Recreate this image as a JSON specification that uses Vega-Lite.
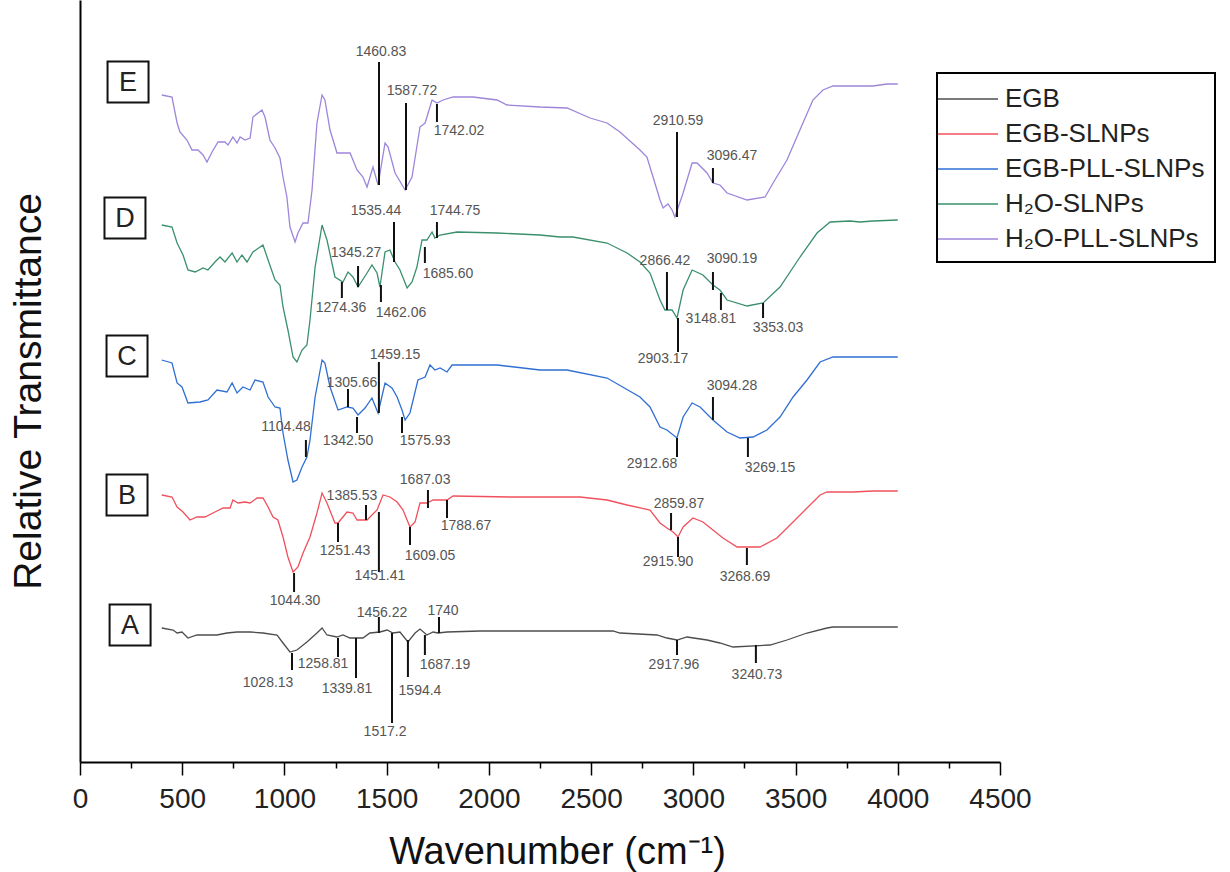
{
 "$schema": "https://vega.github.io/schema/vega-lite/v6.json",
 "width": 920,
 "height": 762,
 "autosize": {"type": "none"},
 "padding": {"left": 80, "top": 0, "right": 230, "bottom": 110},
 "background": "white",
 "config": {"view": {"stroke": null}, "font": "Liberation Sans", "legend": {"strokeWidth": 2}},
 "datasets": {
  "spectra": [
   {"sample":"H₂O-PLL-SLNPs","wavenumber":400,"T":667},{"sample":"H₂O-PLL-SLNPs","wavenumber":450,"T":665},{"sample":"H₂O-PLL-SLNPs","wavenumber":475,"T":639},{"sample":"H₂O-PLL-SLNPs","wavenumber":489,"T":630},{"sample":"H₂O-PLL-SLNPs","wavenumber":523,"T":622},{"sample":"H₂O-PLL-SLNPs","wavenumber":548,"T":612},{"sample":"H₂O-PLL-SLNPs","wavenumber":577,"T":612},{"sample":"H₂O-PLL-SLNPs","wavenumber":602,"T":607},{"sample":"H₂O-PLL-SLNPs","wavenumber":621,"T":600},{"sample":"H₂O-PLL-SLNPs","wavenumber":646,"T":610},{"sample":"H₂O-PLL-SLNPs","wavenumber":675,"T":620},{"sample":"H₂O-PLL-SLNPs","wavenumber":709,"T":620},{"sample":"H₂O-PLL-SLNPs","wavenumber":724,"T":617},{"sample":"H₂O-PLL-SLNPs","wavenumber":748,"T":625},{"sample":"H₂O-PLL-SLNPs","wavenumber":768,"T":619},{"sample":"H₂O-PLL-SLNPs","wavenumber":783,"T":625},{"sample":"H₂O-PLL-SLNPs","wavenumber":807,"T":622},{"sample":"H₂O-PLL-SLNPs","wavenumber":832,"T":624},{"sample":"H₂O-PLL-SLNPs","wavenumber":846,"T":645},{"sample":"H₂O-PLL-SLNPs","wavenumber":890,"T":652},{"sample":"H₂O-PLL-SLNPs","wavenumber":905,"T":645},{"sample":"H₂O-PLL-SLNPs","wavenumber":929,"T":622},{"sample":"H₂O-PLL-SLNPs","wavenumber":954,"T":614},{"sample":"H₂O-PLL-SLNPs","wavenumber":978,"T":604},{"sample":"H₂O-PLL-SLNPs","wavenumber":993,"T":585},{"sample":"H₂O-PLL-SLNPs","wavenumber":1012,"T":565},{"sample":"H₂O-PLL-SLNPs","wavenumber":1027,"T":535},{"sample":"H₂O-PLL-SLNPs","wavenumber":1052,"T":520},{"sample":"H₂O-PLL-SLNPs","wavenumber":1066,"T":529},{"sample":"H₂O-PLL-SLNPs","wavenumber":1091,"T":539},{"sample":"H₂O-PLL-SLNPs","wavenumber":1115,"T":539},{"sample":"H₂O-PLL-SLNPs","wavenumber":1135,"T":572},{"sample":"H₂O-PLL-SLNPs","wavenumber":1159,"T":639},{"sample":"H₂O-PLL-SLNPs","wavenumber":1184,"T":667},{"sample":"H₂O-PLL-SLNPs","wavenumber":1198,"T":662},{"sample":"H₂O-PLL-SLNPs","wavenumber":1223,"T":632},{"sample":"H₂O-PLL-SLNPs","wavenumber":1257,"T":609},{"sample":"H₂O-PLL-SLNPs","wavenumber":1282,"T":609},{"sample":"H₂O-PLL-SLNPs","wavenumber":1321,"T":609},{"sample":"H₂O-PLL-SLNPs","wavenumber":1355,"T":592},{"sample":"H₂O-PLL-SLNPs","wavenumber":1384,"T":585},{"sample":"H₂O-PLL-SLNPs","wavenumber":1404,"T":575},{"sample":"H₂O-PLL-SLNPs","wavenumber":1433,"T":595},{"sample":"H₂O-PLL-SLNPs","wavenumber":1458,"T":577},{"sample":"H₂O-PLL-SLNPs","wavenumber":1492,"T":619},{"sample":"H₂O-PLL-SLNPs","wavenumber":1507,"T":615},{"sample":"H₂O-PLL-SLNPs","wavenumber":1541,"T":589},{"sample":"H₂O-PLL-SLNPs","wavenumber":1590,"T":572},{"sample":"H₂O-PLL-SLNPs","wavenumber":1624,"T":585},{"sample":"H₂O-PLL-SLNPs","wavenumber":1663,"T":635},{"sample":"H₂O-PLL-SLNPs","wavenumber":1688,"T":639},{"sample":"H₂O-PLL-SLNPs","wavenumber":1722,"T":662},{"sample":"H₂O-PLL-SLNPs","wavenumber":1746,"T":659},{"sample":"H₂O-PLL-SLNPs","wavenumber":1776,"T":662},{"sample":"H₂O-PLL-SLNPs","wavenumber":1825,"T":665},{"sample":"H₂O-PLL-SLNPs","wavenumber":1922,"T":665},{"sample":"H₂O-PLL-SLNPs","wavenumber":2040,"T":662},{"sample":"H₂O-PLL-SLNPs","wavenumber":2089,"T":657},{"sample":"H₂O-PLL-SLNPs","wavenumber":2250,"T":655},{"sample":"H₂O-PLL-SLNPs","wavenumber":2382,"T":654},{"sample":"H₂O-PLL-SLNPs","wavenumber":2495,"T":644},{"sample":"H₂O-PLL-SLNPs","wavenumber":2578,"T":639},{"sample":"H₂O-PLL-SLNPs","wavenumber":2641,"T":630},{"sample":"H₂O-PLL-SLNPs","wavenumber":2739,"T":612},{"sample":"H₂O-PLL-SLNPs","wavenumber":2773,"T":605},{"sample":"H₂O-PLL-SLNPs","wavenumber":2803,"T":585},{"sample":"H₂O-PLL-SLNPs","wavenumber":2837,"T":562},{"sample":"H₂O-PLL-SLNPs","wavenumber":2852,"T":554},{"sample":"H₂O-PLL-SLNPs","wavenumber":2876,"T":558},{"sample":"H₂O-PLL-SLNPs","wavenumber":2896,"T":552},{"sample":"H₂O-PLL-SLNPs","wavenumber":2910,"T":545},{"sample":"H₂O-PLL-SLNPs","wavenumber":2950,"T":569},{"sample":"H₂O-PLL-SLNPs","wavenumber":2994,"T":599},{"sample":"H₂O-PLL-SLNPs","wavenumber":3018,"T":599},{"sample":"H₂O-PLL-SLNPs","wavenumber":3067,"T":589},{"sample":"H₂O-PLL-SLNPs","wavenumber":3096,"T":579},{"sample":"H₂O-PLL-SLNPs","wavenumber":3130,"T":577},{"sample":"H₂O-PLL-SLNPs","wavenumber":3165,"T":569},{"sample":"H₂O-PLL-SLNPs","wavenumber":3263,"T":562},{"sample":"H₂O-PLL-SLNPs","wavenumber":3351,"T":565},{"sample":"H₂O-PLL-SLNPs","wavenumber":3390,"T":579},{"sample":"H₂O-PLL-SLNPs","wavenumber":3458,"T":602},{"sample":"H₂O-PLL-SLNPs","wavenumber":3536,"T":639},{"sample":"H₂O-PLL-SLNPs","wavenumber":3585,"T":662},{"sample":"H₂O-PLL-SLNPs","wavenumber":3634,"T":672},{"sample":"H₂O-PLL-SLNPs","wavenumber":3683,"T":676},{"sample":"H₂O-PLL-SLNPs","wavenumber":3879,"T":676},{"sample":"H₂O-PLL-SLNPs","wavenumber":3947,"T":678},{"sample":"H₂O-PLL-SLNPs","wavenumber":4000,"T":678},
   {"sample":"H₂O-SLNPs","wavenumber":400,"T":537},{"sample":"H₂O-SLNPs","wavenumber":450,"T":535},{"sample":"H₂O-SLNPs","wavenumber":475,"T":519},{"sample":"H₂O-SLNPs","wavenumber":504,"T":507},{"sample":"H₂O-SLNPs","wavenumber":528,"T":492},{"sample":"H₂O-SLNPs","wavenumber":563,"T":490},{"sample":"H₂O-SLNPs","wavenumber":602,"T":494},{"sample":"H₂O-SLNPs","wavenumber":626,"T":492},{"sample":"H₂O-SLNPs","wavenumber":660,"T":500},{"sample":"H₂O-SLNPs","wavenumber":685,"T":505},{"sample":"H₂O-SLNPs","wavenumber":709,"T":500},{"sample":"H₂O-SLNPs","wavenumber":744,"T":509},{"sample":"H₂O-SLNPs","wavenumber":768,"T":500},{"sample":"H₂O-SLNPs","wavenumber":792,"T":507},{"sample":"H₂O-SLNPs","wavenumber":817,"T":500},{"sample":"H₂O-SLNPs","wavenumber":846,"T":510},{"sample":"H₂O-SLNPs","wavenumber":895,"T":517},{"sample":"H₂O-SLNPs","wavenumber":920,"T":502},{"sample":"H₂O-SLNPs","wavenumber":954,"T":482},{"sample":"H₂O-SLNPs","wavenumber":978,"T":477},{"sample":"H₂O-SLNPs","wavenumber":993,"T":455},{"sample":"H₂O-SLNPs","wavenumber":1017,"T":432},{"sample":"H₂O-SLNPs","wavenumber":1042,"T":405},{"sample":"H₂O-SLNPs","wavenumber":1061,"T":400},{"sample":"H₂O-SLNPs","wavenumber":1086,"T":412},{"sample":"H₂O-SLNPs","wavenumber":1110,"T":417},{"sample":"H₂O-SLNPs","wavenumber":1125,"T":442},{"sample":"H₂O-SLNPs","wavenumber":1150,"T":495},{"sample":"H₂O-SLNPs","wavenumber":1184,"T":537},{"sample":"H₂O-SLNPs","wavenumber":1208,"T":522},{"sample":"H₂O-SLNPs","wavenumber":1247,"T":485},{"sample":"H₂O-SLNPs","wavenumber":1286,"T":480},{"sample":"H₂O-SLNPs","wavenumber":1311,"T":490},{"sample":"H₂O-SLNPs","wavenumber":1335,"T":485},{"sample":"H₂O-SLNPs","wavenumber":1360,"T":475},{"sample":"H₂O-SLNPs","wavenumber":1404,"T":489},{"sample":"H₂O-SLNPs","wavenumber":1428,"T":497},{"sample":"H₂O-SLNPs","wavenumber":1453,"T":489},{"sample":"H₂O-SLNPs","wavenumber":1467,"T":475},{"sample":"H₂O-SLNPs","wavenumber":1492,"T":510},{"sample":"H₂O-SLNPs","wavenumber":1516,"T":512},{"sample":"H₂O-SLNPs","wavenumber":1541,"T":500},{"sample":"H₂O-SLNPs","wavenumber":1565,"T":492},{"sample":"H₂O-SLNPs","wavenumber":1600,"T":474},{"sample":"H₂O-SLNPs","wavenumber":1624,"T":480},{"sample":"H₂O-SLNPs","wavenumber":1648,"T":495},{"sample":"H₂O-SLNPs","wavenumber":1673,"T":522},{"sample":"H₂O-SLNPs","wavenumber":1697,"T":522},{"sample":"H₂O-SLNPs","wavenumber":1722,"T":530},{"sample":"H₂O-SLNPs","wavenumber":1736,"T":524},{"sample":"H₂O-SLNPs","wavenumber":1761,"T":527},{"sample":"H₂O-SLNPs","wavenumber":1844,"T":530},{"sample":"H₂O-SLNPs","wavenumber":2040,"T":529},{"sample":"H₂O-SLNPs","wavenumber":2250,"T":527},{"sample":"H₂O-SLNPs","wavenumber":2348,"T":525},{"sample":"H₂O-SLNPs","wavenumber":2411,"T":525},{"sample":"H₂O-SLNPs","wavenumber":2578,"T":519},{"sample":"H₂O-SLNPs","wavenumber":2676,"T":509},{"sample":"H₂O-SLNPs","wavenumber":2739,"T":500},{"sample":"H₂O-SLNPs","wavenumber":2788,"T":489},{"sample":"H₂O-SLNPs","wavenumber":2837,"T":462},{"sample":"H₂O-SLNPs","wavenumber":2861,"T":452},{"sample":"H₂O-SLNPs","wavenumber":2896,"T":452},{"sample":"H₂O-SLNPs","wavenumber":2920,"T":444},{"sample":"H₂O-SLNPs","wavenumber":2950,"T":472},{"sample":"H₂O-SLNPs","wavenumber":2994,"T":492},{"sample":"H₂O-SLNPs","wavenumber":3047,"T":487},{"sample":"H₂O-SLNPs","wavenumber":3096,"T":477},{"sample":"H₂O-SLNPs","wavenumber":3130,"T":472},{"sample":"H₂O-SLNPs","wavenumber":3165,"T":462},{"sample":"H₂O-SLNPs","wavenumber":3263,"T":456},{"sample":"H₂O-SLNPs","wavenumber":3341,"T":459},{"sample":"H₂O-SLNPs","wavenumber":3424,"T":475},{"sample":"H₂O-SLNPs","wavenumber":3522,"T":505},{"sample":"H₂O-SLNPs","wavenumber":3605,"T":529},{"sample":"H₂O-SLNPs","wavenumber":3669,"T":540},{"sample":"H₂O-SLNPs","wavenumber":3766,"T":541},{"sample":"H₂O-SLNPs","wavenumber":3815,"T":540},{"sample":"H₂O-SLNPs","wavenumber":3879,"T":541},{"sample":"H₂O-SLNPs","wavenumber":4000,"T":542},
   {"sample":"EGB-PLL-SLNPs","wavenumber":400,"T":402},{"sample":"EGB-PLL-SLNPs","wavenumber":450,"T":399},{"sample":"EGB-PLL-SLNPs","wavenumber":475,"T":379},{"sample":"EGB-PLL-SLNPs","wavenumber":499,"T":375},{"sample":"EGB-PLL-SLNPs","wavenumber":528,"T":359},{"sample":"EGB-PLL-SLNPs","wavenumber":587,"T":360},{"sample":"EGB-PLL-SLNPs","wavenumber":626,"T":362},{"sample":"EGB-PLL-SLNPs","wavenumber":670,"T":372},{"sample":"EGB-PLL-SLNPs","wavenumber":719,"T":370},{"sample":"EGB-PLL-SLNPs","wavenumber":744,"T":379},{"sample":"EGB-PLL-SLNPs","wavenumber":768,"T":369},{"sample":"EGB-PLL-SLNPs","wavenumber":797,"T":375},{"sample":"EGB-PLL-SLNPs","wavenumber":832,"T":372},{"sample":"EGB-PLL-SLNPs","wavenumber":856,"T":382},{"sample":"EGB-PLL-SLNPs","wavenumber":895,"T":380},{"sample":"EGB-PLL-SLNPs","wavenumber":920,"T":365},{"sample":"EGB-PLL-SLNPs","wavenumber":954,"T":355},{"sample":"EGB-PLL-SLNPs","wavenumber":978,"T":354},{"sample":"EGB-PLL-SLNPs","wavenumber":993,"T":329},{"sample":"EGB-PLL-SLNPs","wavenumber":1017,"T":302},{"sample":"EGB-PLL-SLNPs","wavenumber":1042,"T":280},{"sample":"EGB-PLL-SLNPs","wavenumber":1061,"T":282},{"sample":"EGB-PLL-SLNPs","wavenumber":1086,"T":295},{"sample":"EGB-PLL-SLNPs","wavenumber":1110,"T":305},{"sample":"EGB-PLL-SLNPs","wavenumber":1125,"T":322},{"sample":"EGB-PLL-SLNPs","wavenumber":1150,"T":365},{"sample":"EGB-PLL-SLNPs","wavenumber":1184,"T":402},{"sample":"EGB-PLL-SLNPs","wavenumber":1198,"T":399},{"sample":"EGB-PLL-SLNPs","wavenumber":1223,"T":375},{"sample":"EGB-PLL-SLNPs","wavenumber":1262,"T":352},{"sample":"EGB-PLL-SLNPs","wavenumber":1306,"T":355},{"sample":"EGB-PLL-SLNPs","wavenumber":1335,"T":354},{"sample":"EGB-PLL-SLNPs","wavenumber":1360,"T":347},{"sample":"EGB-PLL-SLNPs","wavenumber":1394,"T":354},{"sample":"EGB-PLL-SLNPs","wavenumber":1428,"T":364},{"sample":"EGB-PLL-SLNPs","wavenumber":1458,"T":349},{"sample":"EGB-PLL-SLNPs","wavenumber":1492,"T":379},{"sample":"EGB-PLL-SLNPs","wavenumber":1526,"T":374},{"sample":"EGB-PLL-SLNPs","wavenumber":1551,"T":365},{"sample":"EGB-PLL-SLNPs","wavenumber":1575,"T":352},{"sample":"EGB-PLL-SLNPs","wavenumber":1590,"T":342},{"sample":"EGB-PLL-SLNPs","wavenumber":1614,"T":349},{"sample":"EGB-PLL-SLNPs","wavenumber":1653,"T":382},{"sample":"EGB-PLL-SLNPs","wavenumber":1688,"T":385},{"sample":"EGB-PLL-SLNPs","wavenumber":1712,"T":397},{"sample":"EGB-PLL-SLNPs","wavenumber":1736,"T":392},{"sample":"EGB-PLL-SLNPs","wavenumber":1761,"T":394},{"sample":"EGB-PLL-SLNPs","wavenumber":1795,"T":390},{"sample":"EGB-PLL-SLNPs","wavenumber":1820,"T":397},{"sample":"EGB-PLL-SLNPs","wavenumber":2040,"T":397},{"sample":"EGB-PLL-SLNPs","wavenumber":2250,"T":392},{"sample":"EGB-PLL-SLNPs","wavenumber":2382,"T":392},{"sample":"EGB-PLL-SLNPs","wavenumber":2578,"T":384},{"sample":"EGB-PLL-SLNPs","wavenumber":2739,"T":365},{"sample":"EGB-PLL-SLNPs","wavenumber":2788,"T":355},{"sample":"EGB-PLL-SLNPs","wavenumber":2837,"T":335},{"sample":"EGB-PLL-SLNPs","wavenumber":2871,"T":332},{"sample":"EGB-PLL-SLNPs","wavenumber":2920,"T":324},{"sample":"EGB-PLL-SLNPs","wavenumber":2950,"T":345},{"sample":"EGB-PLL-SLNPs","wavenumber":2994,"T":359},{"sample":"EGB-PLL-SLNPs","wavenumber":3033,"T":355},{"sample":"EGB-PLL-SLNPs","wavenumber":3096,"T":342},{"sample":"EGB-PLL-SLNPs","wavenumber":3165,"T":330},{"sample":"EGB-PLL-SLNPs","wavenumber":3228,"T":324},{"sample":"EGB-PLL-SLNPs","wavenumber":3292,"T":325},{"sample":"EGB-PLL-SLNPs","wavenumber":3360,"T":332},{"sample":"EGB-PLL-SLNPs","wavenumber":3424,"T":345},{"sample":"EGB-PLL-SLNPs","wavenumber":3488,"T":365},{"sample":"EGB-PLL-SLNPs","wavenumber":3556,"T":382},{"sample":"EGB-PLL-SLNPs","wavenumber":3620,"T":400},{"sample":"EGB-PLL-SLNPs","wavenumber":3683,"T":405},{"sample":"EGB-PLL-SLNPs","wavenumber":4000,"T":405},
   {"sample":"EGB-SLNPs","wavenumber":400,"T":267},{"sample":"EGB-SLNPs","wavenumber":450,"T":265},{"sample":"EGB-SLNPs","wavenumber":475,"T":255},{"sample":"EGB-SLNPs","wavenumber":504,"T":250},{"sample":"EGB-SLNPs","wavenumber":538,"T":242},{"sample":"EGB-SLNPs","wavenumber":572,"T":245},{"sample":"EGB-SLNPs","wavenumber":611,"T":245},{"sample":"EGB-SLNPs","wavenumber":660,"T":250},{"sample":"EGB-SLNPs","wavenumber":700,"T":254},{"sample":"EGB-SLNPs","wavenumber":734,"T":254},{"sample":"EGB-SLNPs","wavenumber":748,"T":262},{"sample":"EGB-SLNPs","wavenumber":773,"T":259},{"sample":"EGB-SLNPs","wavenumber":807,"T":260},{"sample":"EGB-SLNPs","wavenumber":832,"T":259},{"sample":"EGB-SLNPs","wavenumber":866,"T":264},{"sample":"EGB-SLNPs","wavenumber":895,"T":264},{"sample":"EGB-SLNPs","wavenumber":920,"T":255},{"sample":"EGB-SLNPs","wavenumber":944,"T":245},{"sample":"EGB-SLNPs","wavenumber":968,"T":242},{"sample":"EGB-SLNPs","wavenumber":993,"T":225},{"sample":"EGB-SLNPs","wavenumber":1017,"T":205},{"sample":"EGB-SLNPs","wavenumber":1042,"T":190},{"sample":"EGB-SLNPs","wavenumber":1066,"T":195},{"sample":"EGB-SLNPs","wavenumber":1091,"T":209},{"sample":"EGB-SLNPs","wavenumber":1125,"T":225},{"sample":"EGB-SLNPs","wavenumber":1159,"T":249},{"sample":"EGB-SLNPs","wavenumber":1184,"T":269},{"sample":"EGB-SLNPs","wavenumber":1208,"T":259},{"sample":"EGB-SLNPs","wavenumber":1247,"T":239},{"sample":"EGB-SLNPs","wavenumber":1262,"T":239},{"sample":"EGB-SLNPs","wavenumber":1306,"T":250},{"sample":"EGB-SLNPs","wavenumber":1335,"T":249},{"sample":"EGB-SLNPs","wavenumber":1355,"T":242},{"sample":"EGB-SLNPs","wavenumber":1404,"T":242},{"sample":"EGB-SLNPs","wavenumber":1453,"T":252},{"sample":"EGB-SLNPs","wavenumber":1482,"T":267},{"sample":"EGB-SLNPs","wavenumber":1516,"T":265},{"sample":"EGB-SLNPs","wavenumber":1551,"T":260},{"sample":"EGB-SLNPs","wavenumber":1580,"T":252},{"sample":"EGB-SLNPs","wavenumber":1614,"T":235},{"sample":"EGB-SLNPs","wavenumber":1639,"T":240},{"sample":"EGB-SLNPs","wavenumber":1663,"T":259},{"sample":"EGB-SLNPs","wavenumber":1697,"T":259},{"sample":"EGB-SLNPs","wavenumber":1727,"T":262},{"sample":"EGB-SLNPs","wavenumber":1761,"T":262},{"sample":"EGB-SLNPs","wavenumber":1795,"T":262},{"sample":"EGB-SLNPs","wavenumber":1825,"T":266},{"sample":"EGB-SLNPs","wavenumber":2103,"T":265},{"sample":"EGB-SLNPs","wavenumber":2446,"T":265},{"sample":"EGB-SLNPs","wavenumber":2578,"T":262},{"sample":"EGB-SLNPs","wavenumber":2676,"T":257},{"sample":"EGB-SLNPs","wavenumber":2788,"T":252},{"sample":"EGB-SLNPs","wavenumber":2837,"T":239},{"sample":"EGB-SLNPs","wavenumber":2871,"T":234},{"sample":"EGB-SLNPs","wavenumber":2901,"T":230},{"sample":"EGB-SLNPs","wavenumber":2925,"T":225},{"sample":"EGB-SLNPs","wavenumber":2950,"T":235},{"sample":"EGB-SLNPs","wavenumber":2998,"T":244},{"sample":"EGB-SLNPs","wavenumber":3047,"T":240},{"sample":"EGB-SLNPs","wavenumber":3096,"T":232},{"sample":"EGB-SLNPs","wavenumber":3145,"T":224},{"sample":"EGB-SLNPs","wavenumber":3214,"T":215},{"sample":"EGB-SLNPs","wavenumber":3326,"T":215},{"sample":"EGB-SLNPs","wavenumber":3409,"T":224},{"sample":"EGB-SLNPs","wavenumber":3473,"T":237},{"sample":"EGB-SLNPs","wavenumber":3556,"T":254},{"sample":"EGB-SLNPs","wavenumber":3620,"T":267},{"sample":"EGB-SLNPs","wavenumber":3654,"T":270},{"sample":"EGB-SLNPs","wavenumber":3781,"T":270},{"sample":"EGB-SLNPs","wavenumber":3879,"T":271},{"sample":"EGB-SLNPs","wavenumber":4000,"T":271},
   {"sample":"EGB","wavenumber":400,"T":134},{"sample":"EGB","wavenumber":455,"T":132},{"sample":"EGB","wavenumber":475,"T":129},{"sample":"EGB","wavenumber":499,"T":130},{"sample":"EGB","wavenumber":528,"T":124},{"sample":"EGB","wavenumber":572,"T":127},{"sample":"EGB","wavenumber":670,"T":127},{"sample":"EGB","wavenumber":719,"T":129},{"sample":"EGB","wavenumber":768,"T":130},{"sample":"EGB","wavenumber":832,"T":130},{"sample":"EGB","wavenumber":895,"T":129},{"sample":"EGB","wavenumber":964,"T":127},{"sample":"EGB","wavenumber":993,"T":119},{"sample":"EGB","wavenumber":1027,"T":110},{"sample":"EGB","wavenumber":1061,"T":112},{"sample":"EGB","wavenumber":1110,"T":120},{"sample":"EGB","wavenumber":1159,"T":129},{"sample":"EGB","wavenumber":1184,"T":134},{"sample":"EGB","wavenumber":1208,"T":127},{"sample":"EGB","wavenumber":1257,"T":125},{"sample":"EGB","wavenumber":1286,"T":127},{"sample":"EGB","wavenumber":1321,"T":124},{"sample":"EGB","wavenumber":1384,"T":124},{"sample":"EGB","wavenumber":1418,"T":129},{"sample":"EGB","wavenumber":1467,"T":130},{"sample":"EGB","wavenumber":1502,"T":132},{"sample":"EGB","wavenumber":1531,"T":129},{"sample":"EGB","wavenumber":1565,"T":130},{"sample":"EGB","wavenumber":1604,"T":120},{"sample":"EGB","wavenumber":1639,"T":129},{"sample":"EGB","wavenumber":1663,"T":133},{"sample":"EGB","wavenumber":1697,"T":127},{"sample":"EGB","wavenumber":1727,"T":130},{"sample":"EGB","wavenumber":1751,"T":129},{"sample":"EGB","wavenumber":1795,"T":130},{"sample":"EGB","wavenumber":1957,"T":131},{"sample":"EGB","wavenumber":2250,"T":131},{"sample":"EGB","wavenumber":2607,"T":131},{"sample":"EGB","wavenumber":2641,"T":129},{"sample":"EGB","wavenumber":2822,"T":127},{"sample":"EGB","wavenumber":2871,"T":124},{"sample":"EGB","wavenumber":2920,"T":122},{"sample":"EGB","wavenumber":2969,"T":125},{"sample":"EGB","wavenumber":3067,"T":122},{"sample":"EGB","wavenumber":3130,"T":119},{"sample":"EGB","wavenumber":3194,"T":115},{"sample":"EGB","wavenumber":3375,"T":117},{"sample":"EGB","wavenumber":3458,"T":122},{"sample":"EGB","wavenumber":3556,"T":129},{"sample":"EGB","wavenumber":3654,"T":134},{"sample":"EGB","wavenumber":3683,"T":135},{"sample":"EGB","wavenumber":4000,"T":135}
  ],
  "peaks": [
   {"label":"1460.83","wavenumber":1462.5,"T":700,"T2":577,"lx":1472,"ly":710},
   {"label":"1587.72","wavenumber":1594.6,"T":659,"T2":572,"lx":1624,"ly":671},
   {"label":"1742.02","wavenumber":1746,"T":658,"T2":640,"lx":1854,"ly":631},
   {"label":"2910.59","wavenumber":2920,"T":630,"T2":545,"lx":2925,"ly":641},
   {"label":"3096.47","wavenumber":3096,"T":594,"T2":579,"lx":3189,"ly":606},
   {"label":"1535.44","wavenumber":1536,"T":540,"T2":500,"lx":1448,"ly":551},
   {"label":"1744.75","wavenumber":1746,"T":540,"T2":524,"lx":1834,"ly":551},
   {"label":"1345.27","wavenumber":1360,"T":496,"T2":475,"lx":1350,"ly":509},
   {"label":"1274.36","wavenumber":1281,"T":480,"T2":464,"lx":1277,"ly":454},
   {"label":"1462.06","wavenumber":1472,"T":477,"T2":460,"lx":1570,"ly":449},
   {"label":"1685.60","wavenumber":1687,"T":515,"T2":499,"lx":1800,"ly":488},
   {"label":"2866.42","wavenumber":2871,"T":490,"T2":452,"lx":2861,"ly":501},
   {"label":"3090.19","wavenumber":3096,"T":490,"T2":472,"lx":3189,"ly":503},
   {"label":"3148.81","wavenumber":3135,"T":469,"T2":452,"lx":3086,"ly":443},
   {"label":"2903.17","wavenumber":2925,"T":444,"T2":410,"lx":2852,"ly":403},
   {"label":"3353.03","wavenumber":3341,"T":459,"T2":444,"lx":3414,"ly":434},
   {"label":"1459.15","wavenumber":1462,"T":400,"T2":349,"lx":1541,"ly":407},
   {"label":"1305.66","wavenumber":1311,"T":373,"T2":355,"lx":1330,"ly":379},
   {"label":"1104.48","wavenumber":1105,"T":322,"T2":305,"lx":1008,"ly":335},
   {"label":"1342.50","wavenumber":1355,"T":345,"T2":329,"lx":1311,"ly":321},
   {"label":"1575.93","wavenumber":1575,"T":345,"T2":329,"lx":1688,"ly":321},
   {"label":"3094.28","wavenumber":3096,"T":365,"T2":342,"lx":3189,"ly":376},
   {"label":"2912.68","wavenumber":2920,"T":324,"T2":305,"lx":2798,"ly":298},
   {"label":"3269.15","wavenumber":3267,"T":324,"T2":305,"lx":3375,"ly":294},
   {"label":"1687.03","wavenumber":1702,"T":272,"T2":254,"lx":1688,"ly":282},
   {"label":"1385.53","wavenumber":1399,"T":257,"T2":242,"lx":1330,"ly":266},
   {"label":"1788.67","wavenumber":1795,"T":262,"T2":244,"lx":1888,"ly":236},
   {"label":"1251.43","wavenumber":1262,"T":239,"T2":220,"lx":1296,"ly":211},
   {"label":"1609.05","wavenumber":1614,"T":235,"T2":217,"lx":1712,"ly":206},
   {"label":"1451.41","wavenumber":1462,"T":250,"T2":190,"lx":1467,"ly":186},
   {"label":"1044.30","wavenumber":1047,"T":189,"T2":170,"lx":1052,"ly":161},
   {"label":"2859.87","wavenumber":2891,"T":249,"T2":232,"lx":2930,"ly":258},
   {"label":"2915.90","wavenumber":2925,"T":225,"T2":205,"lx":2876,"ly":200},
   {"label":"3268.69","wavenumber":3262,"T":214,"T2":197,"lx":3253,"ly":185},
   {"label":"1456.22","wavenumber":1462,"T":145,"T2":129,"lx":1477,"ly":149},
   {"label":"1740","wavenumber":1756,"T":145,"T2":129,"lx":1776,"ly":151},
   {"label":"1028.13","wavenumber":1037,"T":109,"T2":92,"lx":920,"ly":79},
   {"label":"1258.81","wavenumber":1262,"T":124,"T2":105,"lx":1189,"ly":98},
   {"label":"1339.81","wavenumber":1350,"T":124,"T2":84,"lx":1306,"ly":73},
   {"label":"1687.19","wavenumber":1687,"T":127,"T2":107,"lx":1785,"ly":97},
   {"label":"1594.4","wavenumber":1604,"T":122,"T2":85,"lx":1663,"ly":71},
   {"label":"1517.2","wavenumber":1526,"T":129,"T2":39,"lx":1492,"ly":30},
   {"label":"2917.96","wavenumber":2920,"T":122,"T2":107,"lx":2905,"ly":97},
   {"label":"3240.73","wavenumber":3306,"T":117,"T2":99,"lx":3311,"ly":87}
  ],
  "panels": [
   {"letter":"E","wavenumber":235,"T":680},
   {"letter":"D","wavenumber":220,"T":544},
   {"letter":"C","wavenumber":230,"T":406},
   {"letter":"B","wavenumber":230,"T":267},
   {"letter":"A","wavenumber":245,"T":137}
  ]
 },
 "layer": [
  {
   "data": {"name": "spectra"},
   "mark": {"type": "line", "strokeWidth": 1.3},
   "encoding": {
    "x": {"field": "wavenumber", "type": "quantitative", "title": "Wavenumber (cm⁻¹)",
     "scale": {"domain": [0, 4500], "nice": false, "zero": false},
     "axis": {"values": [0,250,500,750,1000,1250,1500,1750,2000,2250,2500,2750,3000,3250,3500,3750,4000,4250,4500],
      "format": "d",
      "labelExpr": "datum.value % 500 === 0 ? datum.label : ''",
      "tickSize": {"condition": {"test": "datum.value % 500 === 0", "value": 13}, "value": 6},
      "tickColor": "black", "tickWidth": 1.5, "domainColor": "black", "domainWidth": 2, "grid": false,
      "labelFont": "Liberation Sans", "labelFontSize": 28, "labelColor": "#222", "labelPadding": 10,
      "labelFlush": false, "labelOverlap": false,
      "titleFont": "Liberation Sans", "titleFontSize": 38, "titleFontWeight": "normal", "titleColor": "#111", "titlePadding": 20, "titleX": 477}},
    "y": {"field": "T", "type": "quantitative", "title": "Relative Transmittance",
     "scale": {"domain": [0, 762], "nice": false, "zero": false},
     "axis": {"ticks": false, "labels": false, "grid": false, "domainColor": "black", "domainWidth": 2,
      "titleFont": "Liberation Sans", "titleFontSize": 39, "titleFontWeight": "normal", "titleColor": "#111", "titlePadding": 32, "titleY": 391}},
    "color": {"field": "sample", "type": "nominal",
     "scale": {"domain": ["EGB", "EGB-SLNPs", "EGB-PLL-SLNPs", "H₂O-SLNPs", "H₂O-PLL-SLNPs"],
               "range": ["#4d4d4d", "#f0505c", "#2f6fd4", "#3a8f6c", "#9d85da"]},
     "legend": {"orient": "none", "legendX": 857, "legendY": 73, "title": null, "strokeColor": "black",
      "padding": 10, "rowPadding": 6, "symbolType": "M-1.667,0H2.333", "symbolSize": 900, "symbolStrokeWidth": 1.5,
      "labelFont": "Liberation Sans", "labelFontSize": 26, "labelColor": "#222", "labelOffset": 26, "labelLimit": 400}}
   }
  },
  {
   "data": {"name": "peaks"},
   "mark": {"type": "rule", "color": "#111", "strokeWidth": 2},
   "encoding": {
    "x": {"field": "wavenumber", "type": "quantitative", "title": "Wavenumber (cm⁻¹)"},
    "y": {"field": "T", "type": "quantitative", "title": "Relative Transmittance"},
    "y2": {"field": "T2"}
   }
  },
  {
   "data": {"name": "peaks"},
   "mark": {"type": "text", "font": "Liberation Sans", "fontSize": 14, "color": "#555", "align": "center", "baseline": "middle"},
   "encoding": {
    "x": {"field": "lx", "type": "quantitative", "title": "Wavenumber (cm⁻¹)"},
    "y": {"field": "ly", "type": "quantitative", "title": "Relative Transmittance"},
    "text": {"field": "label"}
   }
  },
  {
   "data": {"name": "panels"},
   "mark": {"type": "point", "shape": "square", "size": 1680, "filled": false, "stroke": "#111", "strokeWidth": 2, "opacity": 1},
   "encoding": {
    "x": {"field": "wavenumber", "type": "quantitative", "title": "Wavenumber (cm⁻¹)"},
    "y": {"field": "T", "type": "quantitative", "title": "Relative Transmittance"}
   }
  },
  {
   "data": {"name": "panels"},
   "mark": {"type": "text", "font": "Liberation Sans", "fontSize": 27, "color": "#222", "align": "center", "baseline": "middle", "dy": 1},
   "encoding": {
    "x": {"field": "wavenumber", "type": "quantitative", "title": "Wavenumber (cm⁻¹)"},
    "y": {"field": "T", "type": "quantitative", "title": "Relative Transmittance"},
    "text": {"field": "letter"}
   }
  }
 ]
}
